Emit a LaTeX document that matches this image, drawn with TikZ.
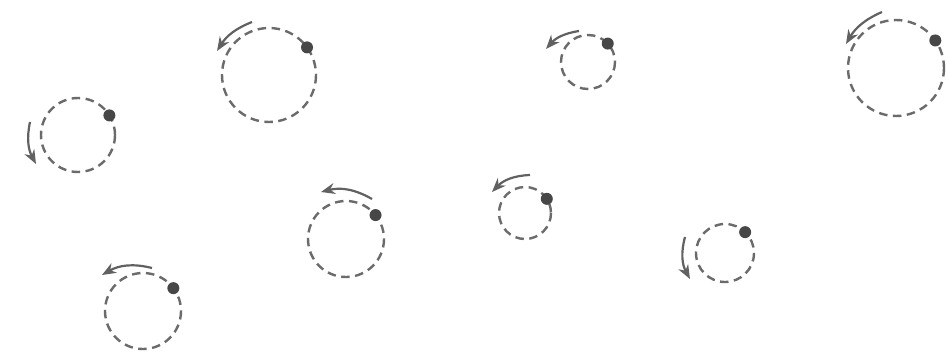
\documentclass[tikz,border=0pt]{standalone}
\usetikzlibrary{arrows.meta}
\begin{document}
\begin{tikzpicture}[x=1pt,y=-1pt,
  orbit/.style={draw=black!58,line width=2.4pt,dash pattern=on 8.5pt off 5.5pt},
  body/.style={fill=black!72,draw=none},
  motion/.style={draw=black!62,line width=2.2pt,-{Stealth[length=14pt,width=11pt]}}]
\fill[white] (0,0) rectangle (948,356);
\useasboundingbox (0,0) rectangle (948,356);
% centres
\coordinate (c1) at (269,75);
\coordinate (c2) at (78,135);
\coordinate (c3) at (896,68);
\coordinate (c4) at (143,311);
\coordinate (c5) at (725,253);
\coordinate (c6) at (525,213);
\coordinate (c7) at (588,62);
\coordinate (c8) at (346,239);
% orbits
\draw[orbit] (c1) circle[radius=47];
\draw[orbit] (c2) circle[radius=37];
\draw[orbit] (c3) circle[radius=48];
\draw[orbit] (c4) circle[radius=38];
\draw[orbit] (c5) circle[radius=29];
\draw[orbit] (c6) circle[radius=26];
\draw[orbit] (c7) circle[radius=27];
\draw[orbit] (c8) circle[radius=38];
% bodies (y axis points down, so angles are mirrored)
\fill[body] ([shift={(-36:47)}]c1) circle[radius=6];
\fill[body] ([shift={(-32:37)}]c2) circle[radius=6];
\fill[body] ([shift={(-35:48)}]c3) circle[radius=6];
\fill[body] ([shift={(-37:38)}]c4) circle[radius=6];
\fill[body] ([shift={(-46:29)}]c5) circle[radius=6];
\fill[body] ([shift={(-33:26)}]c6) circle[radius=6];
\fill[body] ([shift={(-43:27)}]c7) circle[radius=6];
\fill[body] ([shift={(-39:38)}]c8) circle[radius=6];
% motion arrows
\coordinate (s1) at (252,22);  \coordinate (t1) at (217,51);
\coordinate (s2) at (30,122);  \coordinate (t2) at (36,164);
\coordinate (s3) at (882,12);  \coordinate (t3) at (846,44);
\coordinate (s4) at (152,268); \coordinate (t4) at (102,275);
\coordinate (s5) at (685,237); \coordinate (t5) at (690,279);
\coordinate (s6) at (530,175); \coordinate (t6) at (492,192);
\coordinate (s7) at (579,31);  \coordinate (t7) at (546,49);
\coordinate (s8) at (372,199); \coordinate (t8) at (321,192);
\draw[motion] (s1) to[bend right=18] (t1);
\draw[motion] (s2) to[bend right=20] (t2);
\draw[motion] (s3) to[bend right=18] (t3);
\draw[motion] (s4) to[bend right=22] (t4);
\draw[motion] (s5) to[bend right=22] (t5);
\draw[motion] (s6) to[bend right=22] (t6);
\draw[motion] (s7) to[bend right=20] (t7);
\draw[motion] (s8) to[bend right=22] (t8);
\end{tikzpicture}
\end{document}
